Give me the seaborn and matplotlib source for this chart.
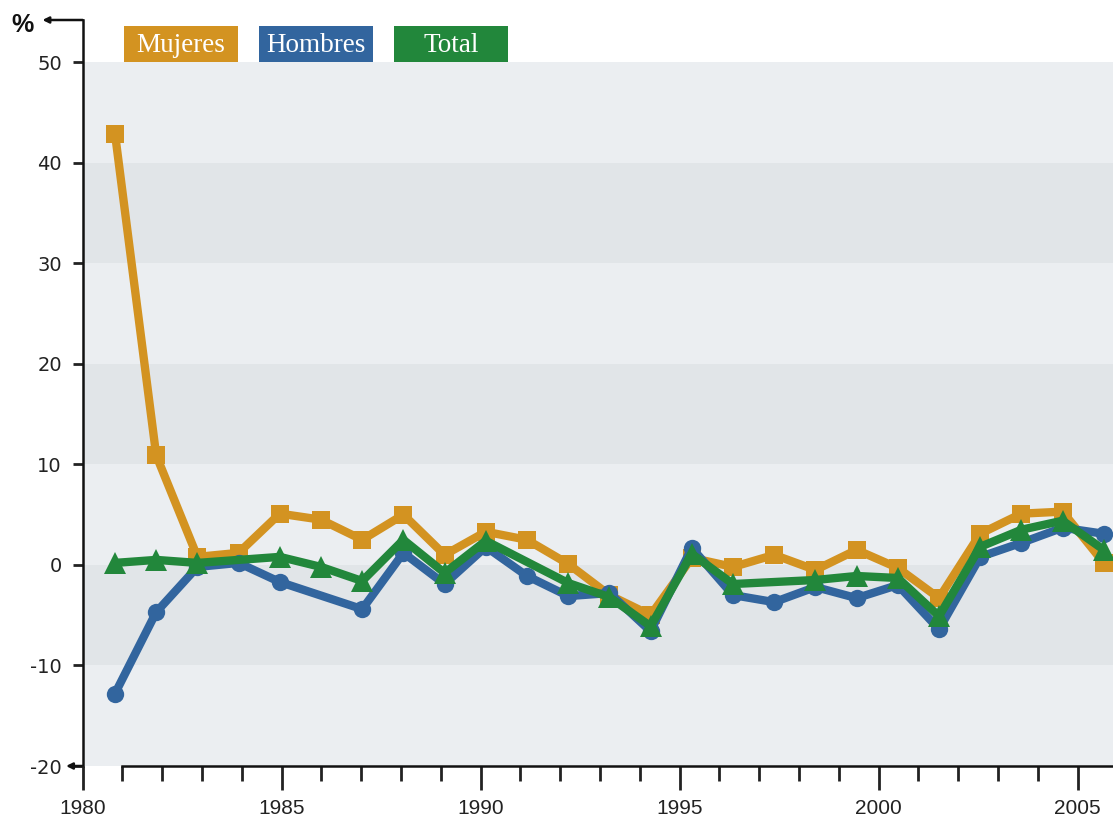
import numpy as np
import pandas as pd
import matplotlib
matplotlib.use("Agg")
import matplotlib.pyplot as plt
from matplotlib.patches import Rectangle
import seaborn as sns

# valores (variacion anual, %)
years = list(range(1981, 2006))
mujeres = [42.9, 10.9, 0.8, 1.2, 5.1, 4.5, 2.5, 5.0, 1.0, 3.3,
           2.5, 0.1, -3.0, -5.0, 0.7, -0.2, 1.0, -0.5, 1.5, -0.3,
           -3.3, 3.1, 5.1, 5.3, 0.2]
hombres = [-12.8, -4.7, -0.2, 0.2, -1.7, np.nan, -4.4, 1.2, -1.9, 1.8,
           -1.1, -3.1, -2.8, -6.6, 1.7, -3.0, -3.7, -2.2, -3.3, -2.0,
           -6.4, 0.8, 2.2, 3.7, 3.1]
total = [0.2, 0.5, 0.2, np.nan, 0.8, -0.2, -1.6, 2.5, -0.8, 2.4,
         np.nan, -1.8, -3.2, -6.1, 1.1, -1.9, np.nan, -1.5, -1.1, -1.3,
         -5.1, 1.8, 3.5, 4.4, 1.5]

series_names = ["Mujeres", "Hombres", "Total"]
colors = {"Mujeres": "#D39321", "Hombres": "#32659E", "Total": "#22873B"}
markers = {"Mujeres": "s", "Hombres": "o", "Total": "^"}
msizes = {"Mujeres": 13.5, "Hombres": 12.5, "Total": 15.5}

yticks = [-20, -10, 0, 10, 20, 30, 40, 50]
ytick_labels = ["-20", "-10", "0", "10", "20", "30", "40", "50"]
xmajor = [1980, 1985, 1990, 1995, 2000, 2005]
xminor = [y for y in range(1981, 2006) if y not in xmajor]

df = pd.DataFrame({
    "anio": years * 3,
    "valor": mujeres + hombres + total,
    "serie": ["Mujeres"] * 25 + ["Hombres"] * 25 + ["Total"] * 25,
}).dropna()

sns.set_style("white")
plt.rcParams["font.family"] = ["Liberation Sans", "DejaVu Sans"]
plt.rcParams["axes.unicode_minus"] = False

W, H = 1113, 824
fig = plt.figure(figsize=(W / 100, H / 100), dpi=100)
ax = fig.add_axes([82.7 / W, 58 / H, 1 - 82.7 / W, 746 / H])

# bandas de fondo
band_cols = ["#EBEEF1", "#E1E5E8"]
for k in range(len(yticks) - 1):
    lo, hi = yticks[k], yticks[k + 1]
    ax.axhspan(lo, hi, color=band_cols[k % 2], lw=0, zorder=0)

for name in series_names:
    sns.lineplot(data=df[df["serie"] == name], x="anio", y="valor",
                 color=colors[name], marker=markers[name],
                 markersize=msizes[name], markeredgewidth=0,
                 linewidth=6, errorbar=None, legend=False, ax=ax)

ax.set_xlim(1980.216, 2005.223)
ax.set_ylim(-20, 54.2)
ax.set_xticks([])
ax.set_xlabel("")
ax.set_ylabel("")
ax.set_yticks(yticks)
ax.set_yticklabels(ytick_labels, family="DejaVu Sans")
ax.tick_params(axis="y", length=7, width=2, pad=8, labelsize=14,
               colors="#222222", left=True)
for s in ["top", "right", "bottom"]:
    ax.spines[s].set_visible(False)
ax.spines["left"].set_linewidth(1.8)
ax.spines["left"].set_color("#111111")

# flechas del eje y
ax.annotate("", xy=(0, 54.2), xycoords=("axes fraction", "data"),
            xytext=(-29, 0), textcoords="offset points",
            arrowprops=dict(arrowstyle="<|-", lw=1.8, color="#111111",
                            mutation_scale=9, shrinkA=0, shrinkB=0),
            annotation_clip=False)
ax.annotate("", xy=(0, -20), xycoords=("axes fraction", "data"),
            xytext=(-12, 0), textcoords="offset points",
            arrowprops=dict(arrowstyle="<|-", lw=1.8, color="#111111",
                            mutation_scale=9, shrinkA=0, shrinkB=0),
            annotation_clip=False)

# eje de anios
axt = ax.twiny()
axt.set_xlim(1980, 2005.89)
axt.xaxis.set_ticks_position("bottom")
axt.xaxis.set_label_position("bottom")
axt.set_xticks(xmajor)
axt.set_xticklabels([str(y) for y in xmajor])
axt.set_xticks(xminor, minor=True)
axt.tick_params(axis="x", which="major", length=17, width=2, pad=7,
                labelsize=15, colors="#222222")
axt.tick_params(axis="x", which="minor", length=10.6, width=2,
                colors="#222222")
for s in ["top", "left", "right"]:
    axt.spines[s].set_visible(False)
axt.spines["bottom"].set_bounds(1981, 2005.89)
axt.spines["bottom"].set_linewidth(1.8)
axt.spines["bottom"].set_color("#111111")

fig.text(22 / W, 1 - 25 / H, "%", fontsize=18, fontweight="bold",
         ha="center", va="center", color="#111111")

# leyenda en cajas
box_x = [124, 259, 394]
for name, x0 in zip(series_names, box_x):
    fig.add_artist(Rectangle((x0 / W, 1 - 61.7 / H), 113.7 / W, 35.7 / H,
                             transform=fig.transFigure,
                             color=colors[name], lw=0))
    fig.text((x0 + 56.8) / W, 1 - 52 / H, name, family="Liberation Serif",
             fontsize=19.5, color="white", ha="center", va="baseline")

fig.savefig("out.png", dpi=100)
